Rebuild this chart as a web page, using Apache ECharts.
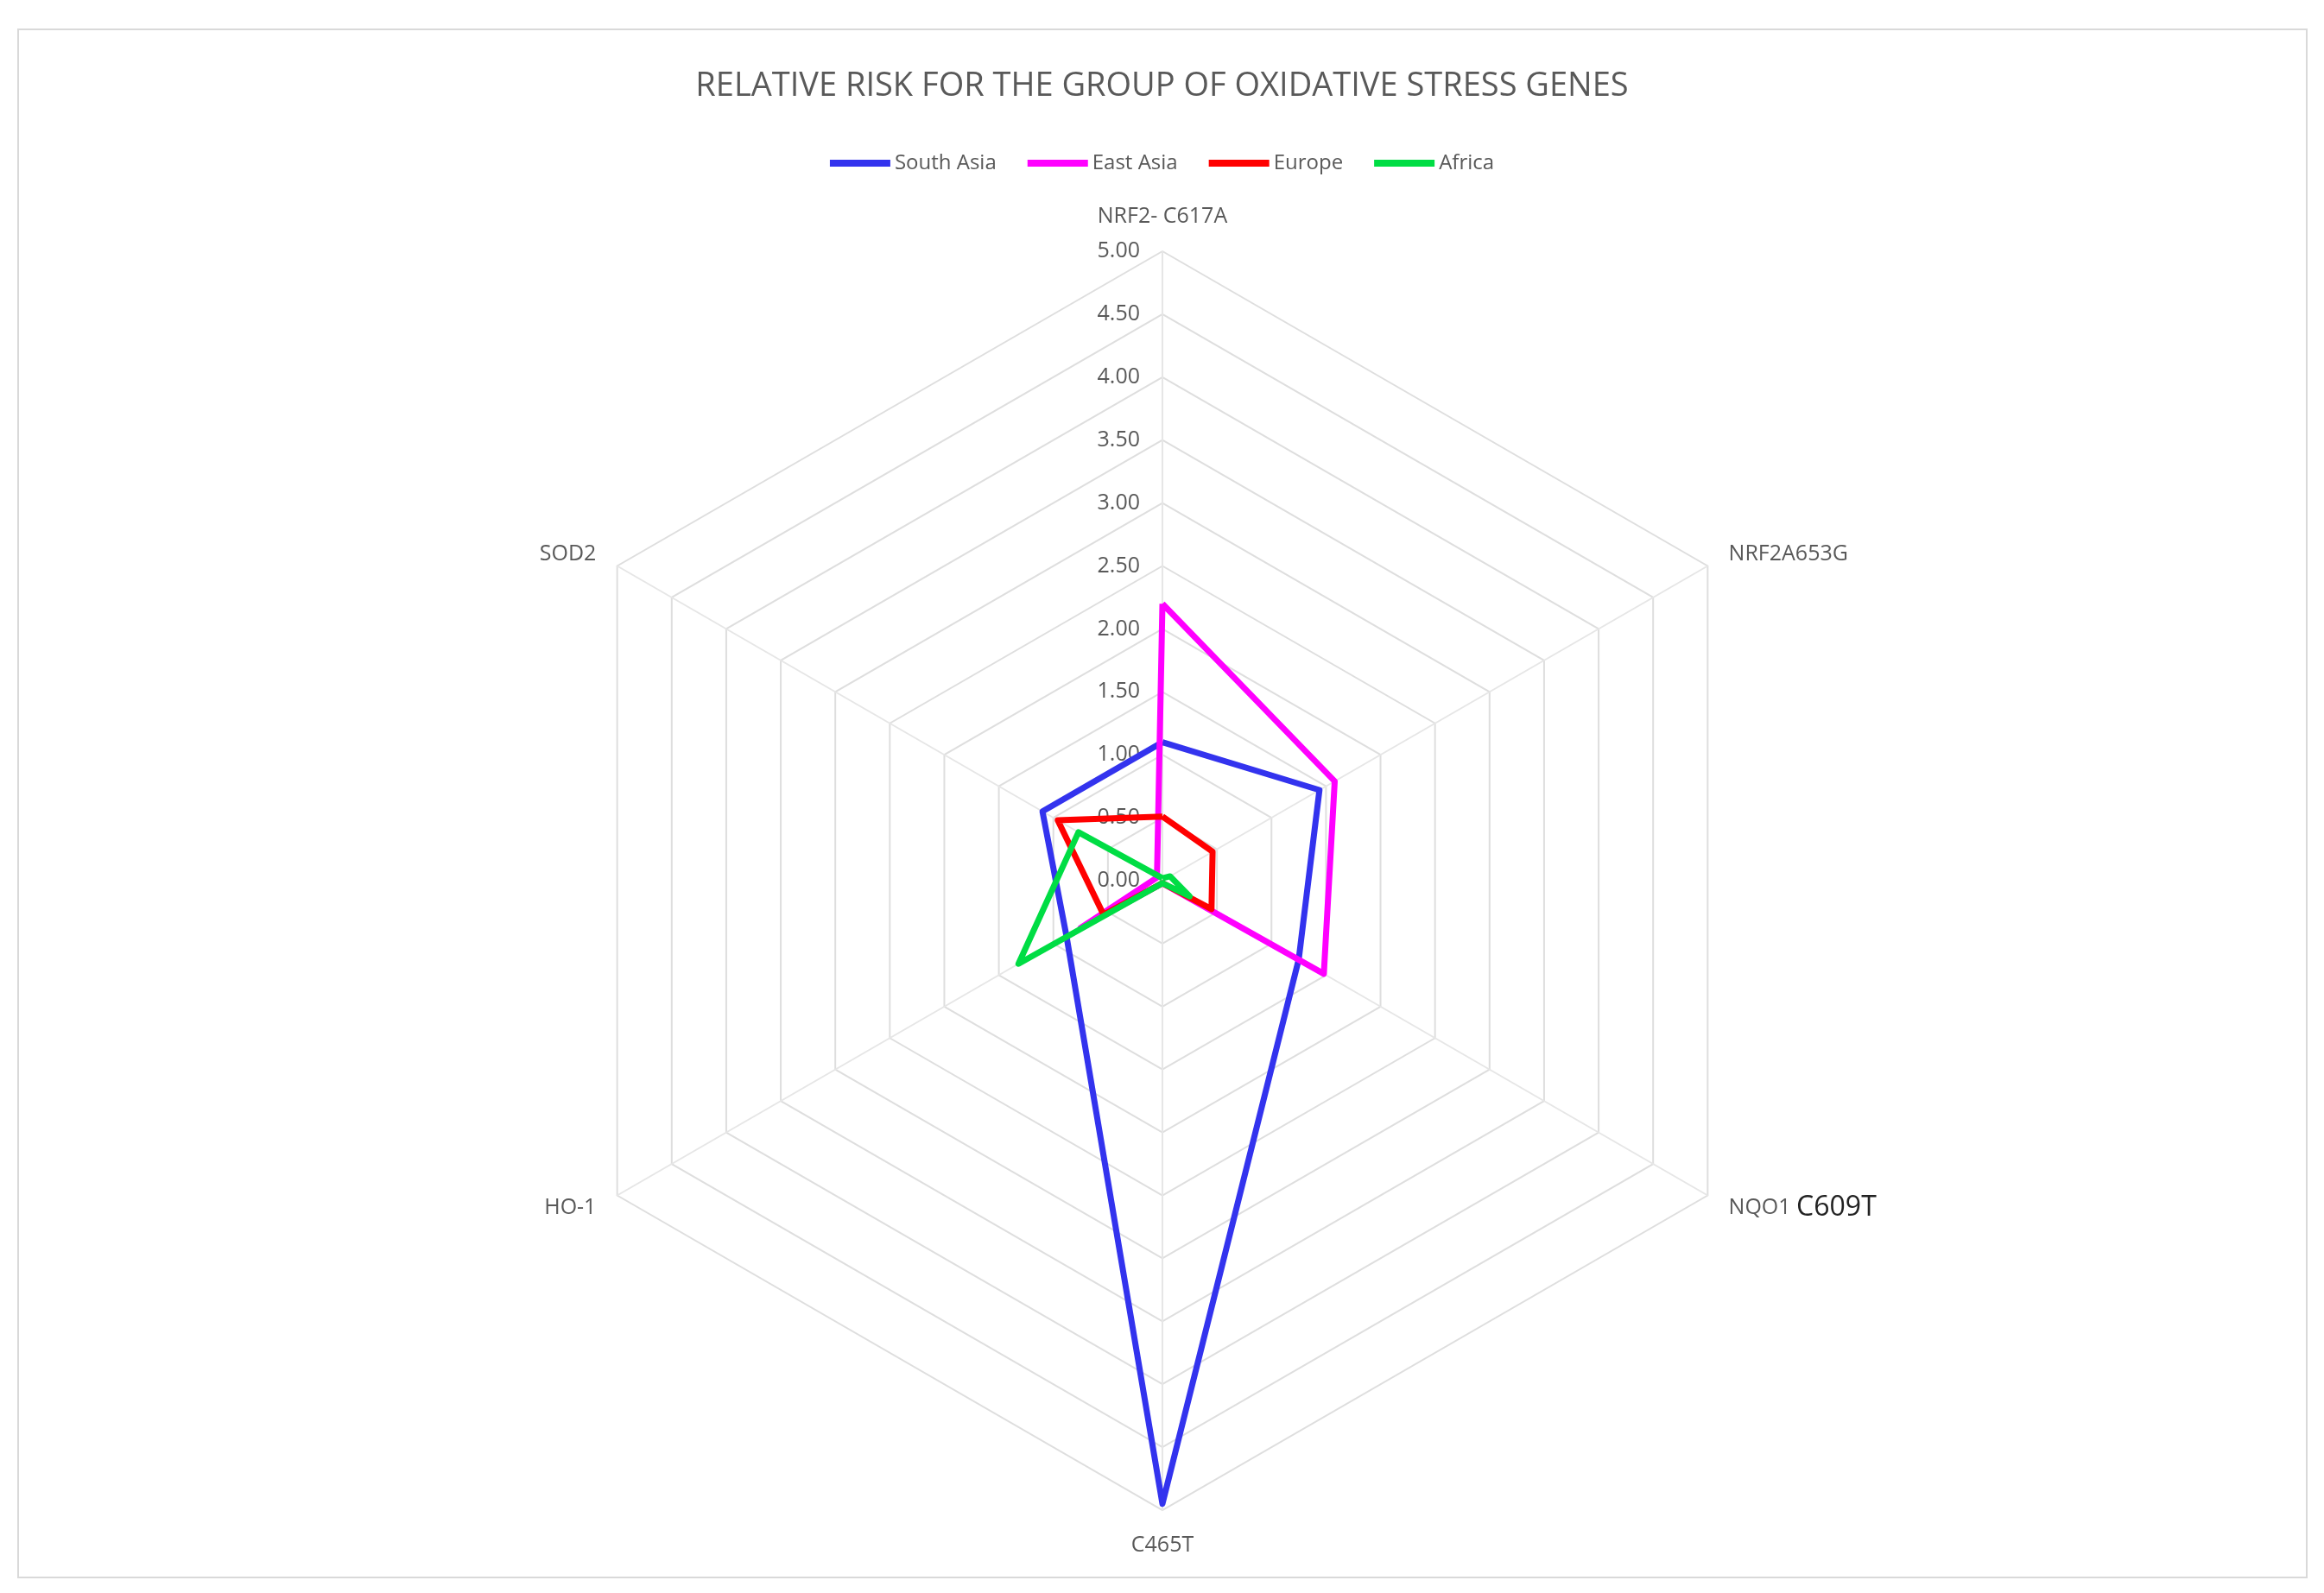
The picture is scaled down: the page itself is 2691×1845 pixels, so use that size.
<!DOCTYPE html>
<html>
<head>
<meta charset="utf-8">
<script src="https://cdn.jsdelivr.net/npm/echarts@6/dist/echarts.min.js"></script>
<style>html,body{margin:0;padding:0;background:#fff}#chart{width:2691px;height:1845px}</style>
</head>
<body>
<div id="chart"></div>
<script>
// data (clockwise from the top)
var genes = ['NRF2- C617A', 'NRF2A653G', 'NQO1 C609T', 'C465T', 'HO-1', 'SOD2'];
var southAsia = [1.10, 1.44, 1.25, 4.95, 0.88, 1.10];
var eastAsia = [2.20, 1.58, 1.48, 0.02, 0.75, 0.05];
var europe = [0.51, 0.46, 0.45, 0.02, 0.54, 0.96];
var africa = [0.02, 0.07, 0.25, 0.02, 1.32, 0.77];
var seriesNames = ['South Asia', 'East Asia', 'Europe', 'Africa'];
var seriesColors = ['#3333ee', '#ff00ff', '#ff0000', '#00dd44'];
var maxValue = 5;

var myChart = echarts.init(document.getElementById('chart'));
window.addEventListener('resize', function(){myChart.resize();}, false);

var cx = 1346, cy = 1020, r = 729;
var allData = [southAsia, eastAsia, europe, africa];
// echarts radar runs counter-clockwise, so reorder to get a clockwise layout
var order = [0, 5, 4, 3, 2, 1];
function reorder(arr){ return order.map(function(i){return arr[i];}); }

var option = {
    backgroundColor: '#fff',
    textStyle: {fontFamily: 'Open Sans'},
    title: {
        text: 'RELATIVE RISK FOR THE GROUP OF OXIDATIVE STRESS GENES',
        left: 'center', top: 76,
        textStyle: {color: '#595959', fontSize: 38, fontWeight: 'normal'}
    },
    legend: {
        top: 172, left: 'center', itemWidth: 70, itemHeight: 8, itemGap: 36,
        icon: 'rect',
        textStyle: {color: '#595959', fontSize: 24},
        data: seriesNames
    },
    graphic: [{
        type: 'rect', shape: {x: 21, y: 34, width: 2650, height: 1793},
        style: {fill: 'none', stroke: '#d9d9d9', lineWidth: 2}, silent: true
    }],
    grid: {left: cx - 2, top: cy - r, width: 4, height: r},
    xAxis: {type: 'value', show: false},
    yAxis: {
        type: 'value', min: 0, max: maxValue, interval: 0.5,
        axisLine: {show: false}, axisTick: {show: false}, splitLine: {show: false},
        axisLabel: {color: '#595959', fontSize: 25, margin: 24, formatter: function(v){return v.toFixed(2);}}
    },
    radar: {
        center: [cx, cy], radius: r, shape: 'polygon', splitNumber: 10, startAngle: 90,
        indicator: reorder(genes).map(function(g){return {name: g, max: maxValue, min: 0};}),
        axisName: {
            color: '#595959', fontSize: 25,
            formatter: function(name){
                if (name === 'NQO1 C609T') return 'NQO1 {b|C609T}';
                return name;
            },
            rich: {b: {color: '#222', fontSize: 32, fontFamily: 'Open Sans'}}
        },
        nameGap: 28,
        axisLine: {lineStyle: {color: '#e6e6e6', width: 2}},
        splitLine: {lineStyle: {color: '#dedede', width: 2}},
        splitArea: {show: false},
        axisLabel: {show: false}
    },
    series: [{
        type: 'radar',
        symbol: 'none',
        data: allData.map(function(d, i){
            return {
                name: seriesNames[i], value: reorder(d),
                lineStyle: {color: seriesColors[i], width: 7},
                itemStyle: {color: seriesColors[i]}
            };
        })
    }]
};
myChart.setOption(option);
</script>
</body>
</html>
